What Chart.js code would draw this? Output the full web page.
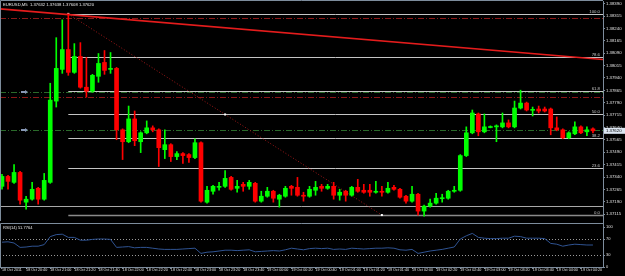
<!DOCTYPE html>
<html>
<head>
<meta charset="utf-8">
<script src="https://cdn.jsdelivr.net/npm/chart.js@4.4.1/dist/chart.umd.min.js"></script>
<style>
    html, body { margin: 0; padding: 0; background: #000; }
    #wrap { position: relative; width: 625px; height: 276px; overflow: hidden; background: #000; }
    #priceBox { position: absolute; left: 0; top: 0; }
    #rsiBox { position: absolute; left: 0; top: 222px; }
</style>
</head>
<body>
<div id="wrap">
    <div id="priceBox"><canvas id="priceChart" width="625" height="222"></canvas></div>
    <div id="rsiBox"><canvas id="rsiChart" width="625" height="54"></canvas></div>
</div>
<script>
// EURUSD M5 candles, 18 Oct 20:20 -> 19 Oct 04:30
const opens = [
    1.37284, 1.37344, 1.37308, 1.37368, 1.37188, 1.37206, 1.37272, 1.37206, 1.37308, 1.37800,
    1.37992, 1.38112, 1.37974, 1.38070, 1.37884, 1.37860, 1.37950, 1.38034, 1.37992, 1.37998,
    1.37626, 1.37554, 1.37692, 1.37554, 1.37608, 1.37638, 1.37626, 1.37506, 1.37536, 1.37464,
    1.37482, 1.37476, 1.37458, 1.37548, 1.37188, 1.37254, 1.37278, 1.37284, 1.37338, 1.37272,
    1.37296, 1.37284, 1.37302, 1.37194, 1.37224, 1.37254, 1.37206, 1.37224, 1.37284, 1.37278,
    1.37230, 1.37224, 1.37260, 1.37284, 1.37272, 1.37284, 1.37230, 1.37254, 1.37230, 1.37278,
    1.37260, 1.37260, 1.37248, 1.37254, 1.37248, 1.37278, 1.37266, 1.37224, 1.37194, 1.37236,
    1.37134, 1.37164, 1.37182, 1.37209, 1.37212, 1.37254, 1.37260, 1.37470, 1.37608, 1.37722,
    1.37614, 1.37640, 1.37644, 1.37644, 1.37668, 1.37644, 1.37758, 1.37788, 1.37744, 1.37752,
    1.37752, 1.37752, 1.37638, 1.37626, 1.37578, 1.37602, 1.37644, 1.37614, 1.37632
];
const highs = [
    1.37356, 1.37350, 1.37416, 1.37374, 1.37224, 1.37308, 1.37278, 1.37362, 1.37908, 1.38184,
    1.38292, 1.38328, 1.38148, 1.38154, 1.38064, 1.37962, 1.38088, 1.38106, 1.38094, 1.38004,
    1.37632, 1.37770, 1.37740, 1.37614, 1.37680, 1.37650, 1.37632, 1.37626, 1.37542, 1.37494,
    1.37488, 1.37482, 1.37572, 1.37554, 1.37284, 1.37290, 1.37308, 1.37380, 1.37344, 1.37320,
    1.37308, 1.37320, 1.37308, 1.37254, 1.37278, 1.37260, 1.37236, 1.37284, 1.37290, 1.37338,
    1.37248, 1.37284, 1.37314, 1.37296, 1.37296, 1.37308, 1.37266, 1.37260, 1.37284, 1.37326,
    1.37296, 1.37296, 1.37314, 1.37284, 1.37308, 1.37290, 1.37272, 1.37230, 1.37284, 1.37242,
    1.37170, 1.37206, 1.37242, 1.37236, 1.37260, 1.37284, 1.37476, 1.37644, 1.37746, 1.37728,
    1.37722, 1.37650, 1.37656, 1.37728, 1.37686, 1.37800, 1.37866, 1.37794, 1.37764, 1.37770,
    1.37764, 1.37758, 1.37704, 1.37632, 1.37614, 1.37674, 1.37650, 1.37644, 1.37638
];
const lows = [
    1.37266, 1.37266, 1.37302, 1.37176, 1.37146, 1.37200, 1.37176, 1.37200, 1.37302, 1.37764,
    1.37968, 1.37956, 1.37968, 1.37878, 1.37824, 1.37854, 1.37914, 1.37962, 1.37968, 1.37566,
    1.37446, 1.37548, 1.37530, 1.37488, 1.37602, 1.37614, 1.37404, 1.37452, 1.37434, 1.37446,
    1.37422, 1.37428, 1.37452, 1.37188, 1.37182, 1.37236, 1.37260, 1.37278, 1.37260, 1.37248,
    1.37254, 1.37266, 1.37188, 1.37188, 1.37218, 1.37188, 1.37158, 1.37218, 1.37230, 1.37224,
    1.37194, 1.37218, 1.37230, 1.37254, 1.37266, 1.37206, 1.37200, 1.37194, 1.37224, 1.37248,
    1.37242, 1.37224, 1.37242, 1.37224, 1.37242, 1.37260, 1.37212, 1.37182, 1.37188, 1.37110,
    1.37104, 1.37158, 1.37176, 1.37188, 1.37206, 1.37248, 1.37254, 1.37464, 1.37602, 1.37590,
    1.37608, 1.37638, 1.37554, 1.37638, 1.37638, 1.37638, 1.37752, 1.37740, 1.37710, 1.37728,
    1.37734, 1.37596, 1.37620, 1.37572, 1.37572, 1.37596, 1.37602, 1.37590, 1.37608
];
const closes = [
    1.37344, 1.37314, 1.37368, 1.37200, 1.37206, 1.37266, 1.37206, 1.37320, 1.37806, 1.37998,
    1.38112, 1.37974, 1.38070, 1.37884, 1.37860, 1.37956, 1.38028, 1.37986, 1.37998, 1.37626,
    1.37554, 1.37692, 1.37560, 1.37608, 1.37638, 1.37626, 1.37518, 1.37536, 1.37464, 1.37482,
    1.37470, 1.37458, 1.37548, 1.37194, 1.37260, 1.37284, 1.37284, 1.37332, 1.37266, 1.37284,
    1.37284, 1.37308, 1.37194, 1.37224, 1.37254, 1.37212, 1.37230, 1.37272, 1.37272, 1.37230,
    1.37224, 1.37266, 1.37278, 1.37272, 1.37284, 1.37230, 1.37248, 1.37230, 1.37278, 1.37254,
    1.37248, 1.37248, 1.37254, 1.37248, 1.37272, 1.37266, 1.37218, 1.37194, 1.37236, 1.37134,
    1.37164, 1.37182, 1.37212, 1.37212, 1.37254, 1.37260, 1.37470, 1.37608, 1.37728, 1.37614,
    1.37644, 1.37644, 1.37650, 1.37668, 1.37644, 1.37758, 1.37788, 1.37746, 1.37746, 1.37740,
    1.37740, 1.37638, 1.37626, 1.37578, 1.37608, 1.37644, 1.37608, 1.37626, 1.37620
];

// RSI(14) per bar
const rsiValues = [
    62, 63, 60, 49, 50, 52, 52, 56, 76, 81,
    82, 74, 74, 67, 67, 69, 70, 70, 69, 49,
    50, 51, 48, 49, 49, 47, 45, 44, 44, 44,
    45, 46, 47, 34, 37, 38, 40, 42, 42, 41,
    42, 43, 38, 39, 40, 41, 40, 43, 47, 45,
    43, 46, 47, 46, 47, 44, 45, 44, 47, 46,
    45, 46, 47, 47, 48, 47, 43, 42, 44, 34,
    37, 40, 42, 44, 47, 50, 70, 78, 84, 74,
    72, 71, 71, 72, 72, 77, 76, 72, 72, 72,
    71, 59, 57, 52, 55, 57, 56, 55, 55
];

// tick labels
const timeLabels = [
    '18 Oct 2011', '18 Oct 20:40', '18 Oct 21:00', '18 Oct 21:20', '18 Oct 21:40',
    '18 Oct 22:00', '18 Oct 22:20', '18 Oct 22:40', '18 Oct 23:00', '18 Oct 23:20',
    '18 Oct 23:40', '19 Oct 00:00', '19 Oct 00:20', '19 Oct 00:40', '19 Oct 01:00',
    '19 Oct 01:20', '19 Oct 01:40', '19 Oct 02:00', '19 Oct 02:20', '19 Oct 02:40',
    '19 Oct 03:00', '19 Oct 03:20', '19 Oct 03:40', '19 Oct 04:00', '19 Oct 04:20'
];
const priceTicks = [
    1.38390, 1.38315, 1.38240, 1.38165, 1.38090, 1.38015, 1.37940, 1.37865, 1.37790,
    1.37715, 1.37640, 1.37565, 1.37490, 1.37415, 1.37340, 1.37265, 1.37190, 1.37115
];
const rsiTicks = [100, 70, 30, 0];
const rsiLevels = [70, 30];

// chart objects
const fibLevels = [0, 23.6, 38.2, 50, 61.8, 78.6, 100];
const fibHigh = 1.38328;     // at bar 11
const fibLow = 1.37110;      // at bar 63
const redLevels = [1.38304, 1.37824];
const greenLevels = [1.37854, 1.37626];
const grayLevels = [1.37164];
const trendStart = 1.38357;  // at bar 0
const trendEnd = 1.38057;    // at bar 98

const FONT = "'Liberation Sans', Arial, sans-serif";
const FRAME = '#7d8c9c';
const BULL = '#00ff00';
const BEAR = '#ff0000';

const candleColors = opens.map((o, i) => closes[i] >= o ? BULL : BEAR);
const bodies = opens.map((o, i) => ({ x: i, y: [o, closes[i]] }));
const wicks = lows.map((l, i) => ({ x: i, y: [l, highs[i]] }));

const lastBar = opens.length - 1;
const fibStartBar = 11;
const fibEndBar = 63;

// draws fib, trend lines and price levels
const objectsPlugin = {
    id: 'objects',
    beforeDatasetsDraw(chart) {
        const { ctx, chartArea: a, scales: { x, y } } = chart;
        ctx.save();
        ctx.beginPath();
        ctx.rect(a.left, a.top, a.right - a.left, a.bottom - a.top);
        ctx.clip();

        // dash-dot horizontal levels
        ctx.lineWidth = 1;
        ctx.setLineDash([6, 2, 1, 2]);
        ctx.strokeStyle = '#8c1818';
        redLevels.forEach(v => {
            const py = Math.round(y.getPixelForValue(v)) + 0.5;
            ctx.beginPath(); ctx.moveTo(a.left, py); ctx.lineTo(a.right, py); ctx.stroke();
        });
        ctx.strokeStyle = '#2a6a2a';
        greenLevels.forEach(v => {
            const py = Math.round(y.getPixelForValue(v)) + 0.5;
            ctx.beginPath(); ctx.moveTo(a.left, py); ctx.lineTo(a.right, py); ctx.stroke();
        });
        ctx.setLineDash([]);

        // plain gray level
        ctx.strokeStyle = '#a8a8a8';
        grayLevels.forEach(v => {
            const py = Math.round(y.getPixelForValue(v)) + 0.5;
            ctx.beginPath(); ctx.moveTo(a.left, py); ctx.lineTo(a.right, py); ctx.stroke();
        });

        // fibonacci levels
        const fx = x.getPixelForValue(fibStartBar);
        ctx.font = '4.3px ' + FONT;
        ctx.textAlign = 'right';
        ctx.textBaseline = 'bottom';
        fibLevels.forEach(lv => {
            const price = fibLow + (fibHigh - fibLow) * lv / 100;
            const py = Math.round(y.getPixelForValue(price)) + 0.5;
            ctx.strokeStyle = lv === 0 ? '#8a8a8a' : '#c4c4c4';
            ctx.lineWidth = lv === 0 ? 1.6 : 1;
            ctx.beginPath(); ctx.moveTo(fx, py); ctx.lineTo(a.right, py); ctx.stroke();
            ctx.fillStyle = '#c4c4c4';
            ctx.fillText(lv.toFixed(1), a.right - 3, py - 0.5);
        });

        // fib trend line (dotted)
        const p1 = { x: fx, y: y.getPixelForValue(fibHigh) };
        const p2 = { x: x.getPixelForValue(fibEndBar), y: y.getPixelForValue(fibLow) };
        ctx.strokeStyle = '#a01818';
        ctx.lineWidth = 1;
        ctx.setLineDash([1, 2]);
        ctx.beginPath(); ctx.moveTo(p1.x, p1.y); ctx.lineTo(p2.x, p2.y); ctx.stroke();
        ctx.setLineDash([]);
        ctx.fillStyle = '#ffffff';
        [p1, { x: (p1.x + p2.x) / 2, y: (p1.y + p2.y) / 2 }, p2].forEach(p => {
            ctx.fillRect(p.x - 1, p.y - 1, 2, 2);
        });

        // red trend line, extended both ways
        const slope = (trendEnd - trendStart) / lastBar;
        ctx.strokeStyle = '#e41c1c';
        ctx.lineWidth = 1.7;
        ctx.beginPath();
        ctx.moveTo(x.getPixelForValue(x.min), y.getPixelForValue(trendStart + slope * x.min));
        ctx.lineTo(x.getPixelForValue(x.max), y.getPixelForValue(trendStart + slope * x.max));
        ctx.stroke();

        ctx.restore();
    },
    afterDraw(chart) {
        const { ctx, chartArea: a, scales: { y } } = chart;
        ctx.save();

        // order markers on the left
        ctx.fillStyle = '#8797b5';
        greenLevels.forEach(v => {
            const py = Math.round(y.getPixelForValue(v));
            ctx.fillRect(21, py - 1, 4, 2);
            ctx.beginPath(); ctx.moveTo(25, py - 2); ctx.lineTo(28, py); ctx.lineTo(25, py + 2); ctx.fill();
        });

        // frame
        ctx.strokeStyle = FRAME;
        ctx.lineWidth = 1;
        ctx.beginPath();
        ctx.moveTo(0.5, a.bottom); ctx.lineTo(0.5, 0.5); ctx.lineTo(a.right, 0.5);
        ctx.stroke();

        // header
        ctx.font = '4.2px ' + FONT;
        ctx.textAlign = 'left';
        ctx.textBaseline = 'middle';
        ctx.fillStyle = '#e8e8e8';
        const ohlc = [opens[lastBar], highs[lastBar], lows[lastBar], closes[lastBar]];
        ctx.fillText('EURUSD,M5  ' + ohlc.map(v => v.toFixed(5)).join(' '), 3, 4.5);

        // current price tag
        const py = y.getPixelForValue(closes[lastBar]);
        ctx.fillStyle = '#dce6f2';
        ctx.fillRect(a.right + 1, py - 3, 21, 6);
        ctx.fillStyle = '#000';
        ctx.font = '4.3px ' + FONT;
        ctx.fillText(closes[lastBar].toFixed(5), a.right + 3, py);
        ctx.restore();
    }
};

const rsiPlugin = {
    id: 'rsiDecor',
    beforeDatasetsDraw(chart) {
        const { ctx, chartArea: a, scales: { y } } = chart;
        ctx.save();
        ctx.strokeStyle = '#9a9a9a';
        ctx.lineWidth = 1;
        ctx.setLineDash([1, 2]);
        rsiLevels.forEach(v => {
            const py = Math.round(y.getPixelForValue(v)) + 0.5;
            ctx.beginPath(); ctx.moveTo(a.left, py); ctx.lineTo(a.right, py); ctx.stroke();
        });
        ctx.restore();
    },
    afterDraw(chart) {
        const { ctx, chartArea: a } = chart;
        ctx.save();
        ctx.strokeStyle = FRAME;
        ctx.lineWidth = 1;
        ctx.beginPath();
        ctx.moveTo(0.5, a.bottom); ctx.lineTo(0.5, 1.5); ctx.lineTo(a.right, 1.5);
        ctx.moveTo(a.right + 0.5, 0); ctx.lineTo(a.right + 0.5, a.top);
        ctx.stroke();
        ctx.font = '4px ' + FONT;
        ctx.fillStyle = '#e8e8e8';
        ctx.textBaseline = 'middle';
        ctx.fillText('RSI(14) 51.7764', 3, 6);
        ctx.restore();
    }
};

const xRange = { type: 'linear', min: -0.33, max: 99.67, offset: false };

new Chart(document.getElementById('priceChart'), {
    type: 'bar',
    data: {
        datasets: [
            { data: wicks, backgroundColor: candleColors, barThickness: 1, grouped: false, order: 2 },
            { data: bodies, backgroundColor: candleColors, barThickness: 4, minBarLength: 1, grouped: false, order: 1 }
        ]
    },
    options: {
        responsive: false,
        animation: false,
        layout: { padding: 0 },
        plugins: { legend: { display: false }, tooltip: { enabled: false } },
        scales: {
            x: { ...xRange, display: false },
            y: {
                position: 'right',
                min: 1.37074,
                max: 1.38406,
                afterFit: s => { s.width = 22; },
                afterBuildTicks: s => { s.ticks = priceTicks.map(v => ({ value: v })); },
                ticks: {
                    color: '#e0e0e0',
                    padding: 1,
                    autoSkip: false,
                    font: { family: FONT, size: 4.3, lineHeight: 0 },
                    callback: v => v.toFixed(5)
                },
                grid: { drawOnChartArea: false, drawTicks: true, tickLength: 2, color: FRAME },
                border: { display: true, color: FRAME }
            }
        }
    },
    plugins: [objectsPlugin]
});

new Chart(document.getElementById('rsiChart'), {
    type: 'line',
    data: {
        datasets: [{
            data: rsiValues.map((v, i) => ({ x: i, y: v })),
            borderColor: '#2f5392',
            borderWidth: 1,
            pointRadius: 0,
            tension: 0
        }]
    },
    options: {
        responsive: false,
        animation: false,
        layout: { padding: { top: 5, left: 0, right: 0, bottom: 0 } },
        plugins: { legend: { display: false }, tooltip: { enabled: false } },
        scales: {
            x: {
                ...xRange,
                afterFit: s => { s.height = 9; },
                afterBuildTicks: s => { s.ticks = timeLabels.map((t, k) => ({ value: k * 4 })); },
                ticks: {
                    color: '#e0e0e0',
                    autoSkip: false,
                    maxRotation: 0,
                    align: 'start',
                    padding: 1,
                    font: { family: FONT, size: 3.7, lineHeight: 0 },
                    callback: (v, i) => timeLabels[i]
                },
                grid: { drawOnChartArea: false, drawTicks: true, tickLength: 2, color: FRAME },
                border: { display: true, color: FRAME }
            },
            y: {
                position: 'right',
                min: 0,
                max: 100,
                afterFit: s => { s.width = 22; },
                afterBuildTicks: s => { s.ticks = rsiTicks.map(v => ({ value: v })); },
                ticks: {
                    color: '#e0e0e0',
                    padding: 1,
                    autoSkip: false,
                    font: { family: FONT, size: 4, lineHeight: 0 }
                },
                grid: { drawOnChartArea: false, drawTicks: true, tickLength: 2, color: FRAME },
                border: { display: true, color: FRAME }
            }
        }
    },
    plugins: [rsiPlugin]
});
</script>
</body>
</html>
